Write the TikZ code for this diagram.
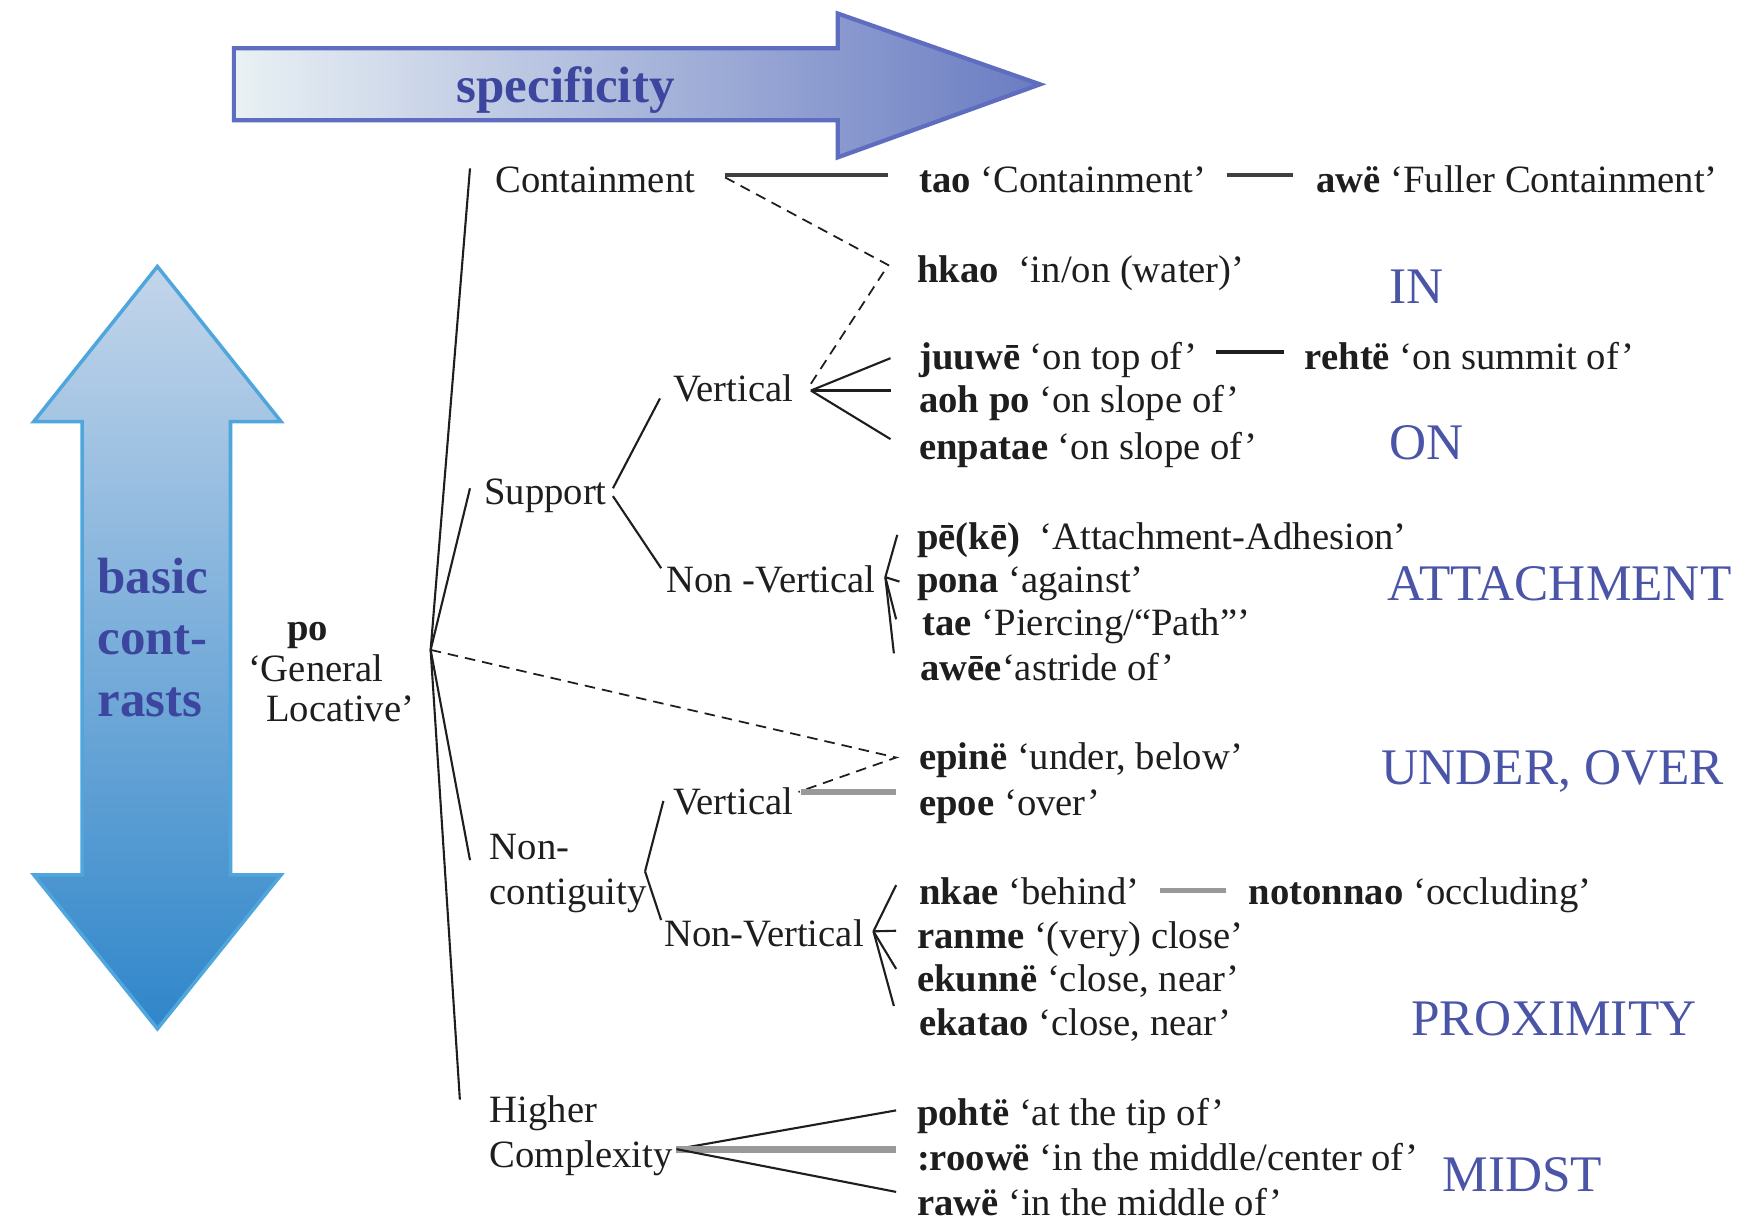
\documentclass[tikz,border=0pt]{standalone}
\usepackage{fontspec}
\setmainfont{Liberation Serif}
\usetikzlibrary{calc}
\definecolor{specL}{HTML}{E9F1F4}
\definecolor{specM}{HTML}{BFD6EC}
\definecolor{specR}{HTML}{6A7CC2}
\definecolor{specB}{HTML}{5E6DBF}
\definecolor{basT}{HTML}{C3D5EA}
\definecolor{basM}{HTML}{6EAEDD}
\definecolor{basD}{HTML}{2F86CA}
\definecolor{basB}{HTML}{4FA6DC}
\definecolor{headC}{HTML}{3D469E}
\definecolor{zoneC}{HTML}{4B55A8}
\definecolor{inkC}{HTML}{1E1E1E}
\begin{document}
\begin{tikzpicture}[x=0.11244mm, y=-0.11244mm,
    lex/.style={anchor=base west, inner sep=0pt, text=inkC, font=\fontsize{11}{12.8}\selectfont},
    zone/.style={inner sep=0pt, text=zoneC, font=\fontsize{14.6}{17}\selectfont},
    br/.style={line width=0.6pt, inkC},
    dsh/.style={line width=0.5pt, inkC, dash pattern=on 3pt off 2pt},
    bar/.style={line width=1.2pt, black!75},
    gbar/.style={line width=1.8pt, black!40}]
\useasboundingbox (0,0) rectangle (1568,1086);

% the two big arrows
\shade[left color=specL, middle color=specM, right color=specR, draw=specB, line width=1.2pt]
    (208,43) -- (745,43) -- (745,12) -- (925,75) -- (745,140) -- (745,107) -- (208,107) -- cycle;
\node[text=headC, font=\bfseries\fontsize{14.5}{17}\selectfont] (spec) at (503,80) {specificity};
\shade[top color=basT, middle color=basM, bottom color=basD, draw=basB, line width=1pt]
    (140,237) -- (250,375) -- (205,375) -- (205,778) -- (250,778) -- (140,915)
    -- (30,778) -- (73,778) -- (73,375) -- (30,375) -- cycle;
\node[anchor=west, align=left, inner sep=0pt, text=headC,
    font=\bfseries\fontsize{14.5}{17.6}\selectfont] (basic) at (86,567) {basic\\cont-\\rasts};

% root
\node[anchor=west, align=left, inner sep=0pt, text=inkC, font=\fontsize{11}{11.5}\selectfont]
    (po) at (220,598) {\hspace{3.9mm}\textbf{po}\\‘General\\\hspace{1.8mm}Locative’};

% categories
\node[lex] (cont) at (440,171) {Containment};
\node[lex] (support) at (430,449) {Support};
\node[lex, anchor=west, align=left] (ncont) at (435,777) {Non-\\contiguity};
\node[lex, anchor=west, align=left] (higher) at (435,1010) {Higher\\Complexity};
\node[lex] (vsup) at (598,357) {Vertical};
\node[lex] (nvsup) at (592,527) {Non -Vertical};
\node[lex] (vnc) at (598,724) {Vertical};
\node[lex] (nvnc) at (590,842) {Non-Vertical};

% lexemes
\node[lex] (tao) at (817,171) {\textbf{tao} ‘Containment’};
\node[lex] (awe) at (1170,171) {\textbf{awë} ‘Fuller Containment’};
\node[lex] (hkao) at (815,251) {\textbf{hkao}\ \ ‘in/on (water)’};
\node[lex] (juuwe) at (817,329) {\textbf{juuwē} ‘on top of’};
\node[lex] (rehte) at (1160,329) {\textbf{rehtë} ‘on summit of’};
\node[lex] (aohpo) at (817,367) {\textbf{aoh po} ‘on slope of’};
\node[lex] (enpatae) at (817,409) {\textbf{enpatae} ‘on slope of’};
\node[lex] (peke) at (815,489) {\textbf{pē(kē)}\ \ ‘Attachment-Adhesion’};
\node[lex] (pona) at (815,527) {\textbf{pona}\ ‘against’};
\node[lex] (tae) at (820,565) {\textbf{tae} ‘Piercing/“Path”’};
\node[lex] (awee) at (818,605) {\textbf{awēe}‘astride of’};
\node[lex] (epine) at (817,684) {\textbf{epinë} ‘under, below’};
\node[lex] (epoe) at (817,725) {\textbf{epoe} ‘over’};
\node[lex] (nkae) at (817,804) {\textbf{nkae} ‘behind’};
\node[lex] (noton) at (1110,804) {\textbf{notonnao} ‘occluding’};
\node[lex] (ranme) at (815,844) {\textbf{ranme}\ ‘(very) close’};
\node[lex] (ekunne) at (815,882) {\textbf{ekunnë}\ ‘close, near’};
\node[lex] (ekatao) at (817,921) {\textbf{ekatao}\ ‘close, near’};
\node[lex] (pohte) at (815,1001) {\textbf{pohtë}\ ‘at the tip of’};
\node[lex] (roowe) at (815,1041) {\textbf{:roowë} ‘in the middle/center of’};
\node[lex] (rawe) at (815,1081) {\textbf{rawë} ‘in the middle of’};

% zones
\node[zone] (zin) at (1260,255) {IN};
\node[zone] (zon) at (1269,394) {ON};
\node[zone] (zatt) at (1387,519) {ATTACHMENT};
\node[zone] (zund) at (1381,686) {UNDER, OVER};
\node[zone] (zprox) at (1382,906) {PROXIMITY};
\node[zone] (zmid) at (1354,1045) {MIDST};

% trunk
\coordinate (root) at (383,578);
\draw[br] (root) -- ($(cont.west)+(-22,-10)$);
\draw[br] (root) -- ($(support.west)+(-12,-7)$);
\draw[br] (root) -- ($(ncont.west)+(-17,-12)$);
\draw[br] (root) -- ($(higher.west)+(-26,-32)$);

% containment
\draw[bar] ($(cont.east)+(26,-4)$) -- ($(tao.west |- cont.east)+(-27,-4)$);
\draw[bar] ($(tao.east)+(18,-4)$) -- ($(awe.west |- tao.east)+(-20,-4)$);
\coordinate (hk) at ($(hkao.west)+(-25,-7)$);
\draw[dsh] ($(cont.east)+(26,-2)$) -- (hk) -- ($(vsup.east)+(15,-4)$);

% support
\draw[br] ($(support.east)+(5,-7)$) -- ($(vsup.west)+(-11,9)$);
\draw[br] ($(support.east)+(5,0)$) -- ($(nvsup.west)+(-4,-10)$);
\coordinate (vs) at ($(vsup.east)+(15,2)$);
\draw[br] (vs) -- ($(juuwe.west)+(-25,-2)$);
\draw[br, line width=1pt] (vs) -- ($(aohpo.west |- vs)+(-25,0)$);
\draw[br] (vs) -- ($(enpatae.west)+(-25,-10)$);
\draw[br, line width=1pt] ($(juuwe.east |- rehte.west)+(16,-4)$) -- ($(rehte.west)+(-18,-4)$);
\coordinate (nvs) at ($(nvsup.east)+(8,-2)$);
\draw[br] (nvs) -- ($(peke.west)+(-17,-5)$);
\draw[br] (nvs) -- ($(pona.west)+(-15,-2)$);
\draw[br] (nvs) -- ($(tae.west)+(-23,-6)$);
\draw[br] (nvs) -- ($(awee.west)+(-23,-12)$);

% non-contiguity
\coordinate (ev) at ($(epine.west)+(-20,-2)$);
\draw[dsh] (root) -- (ev) -- ($(vnc.east)+(4,-8)$);
\draw[gbar] ($(vnc.east)+(6,-8)$) -- ($(epoe.west |- vnc.east)+(-20,-8)$);
\coordinate (nc) at ($(ncont.east)+(-2,-2)$);
\draw[br] (nc) -- ($(vnc.west)+(-8,0)$);
\draw[br] (nc) -- ($(nvnc.west)+(-2,-12)$);
\coordinate (nvn) at ($(nvnc.east)+(8,-2)$);
\draw[br] (nvn) -- ($(nkae.west)+(-20,-5)$);
\draw[br] (nvn) -- ($(ranme.west)+(-18,-8)$);
\draw[br] (nvn) -- ($(ekunne.west)+(-18,-11)$);
\draw[br] (nvn) -- ($(ekatao.west)+(-22,-17)$);
\draw[gbar, line width=1.4pt] ($(nkae.east |- noton.west)+(18,-4)$) -- ($(noton.west)+(-20,-4)$);

% higher complexity
\coordinate (hc) at ($(higher.east)+(3,12)$);
\draw[br] (hc) -- ($(pohte.west)+(-18,-5)$);
\draw[gbar, line width=2pt] (hc) -- ($(roowe.west |- hc)+(-18,0)$);
\draw[br] (hc) -- ($(rawe.west)+(-18,-9)$);
\end{tikzpicture}
\end{document}
